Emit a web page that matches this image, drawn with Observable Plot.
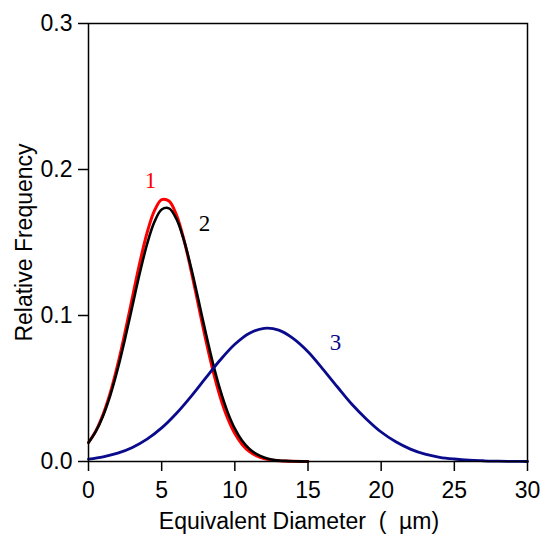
<!DOCTYPE html>
<html>
<head>
<meta charset="utf-8">
<script src="https://cdn.jsdelivr.net/npm/d3@7"></script>
<script src="https://cdn.jsdelivr.net/npm/@observablehq/plot@0.6"></script>
<style>
  html, body { margin: 0; padding: 0; background: #fff; }
</style>
</head>
<body>
<div id="chart"></div>
<script>
// Curve 1 (red)
const x1 = [0,0.5,1,1.5,2,2.5,3,3.5,4,4.5,5,5.5,6,6.5,7,7.5,8,8.5,9,9.5,10,10.5,11,11.5,12,12.5,13,14,15];
const y1 = [0.0130,0.0210,0.0324,0.0475,0.0665,0.0886,0.1124,0.1359,0.1565,0.1716,0.1793,0.1784,0.1691,0.1527,0.1313,0.1076,0.0839,0.0624,0.0442,0.0298,0.0191,0.0117,0.0068,0.0038,0.0020,0.0010,0.0005,0.0001,0];
// Curve 2 (black)
const x2 = [0,0.5,1,1.5,2,2.5,3,3.5,4,4.5,5,5.5,6,6.5,7,7.5,8,8.5,9,9.5,10,10.5,11,11.5,12,12.5,13,13.5,14,15];
const y2 = [0.0129,0.0206,0.0314,0.0457,0.0635,0.0842,0.1066,0.1289,0.1488,0.1640,0.1726,0.1734,0.1663,0.1523,0.1332,0.1112,0.0886,0.0674,0.0490,0.0340,0.0225,0.0142,0.0086,0.0050,0.0027,0.0014,0.0007,0.0004,0.0002,0];
// Curve 3 (blue)
const x3 = [0,1,2,3,4,5,6,7,8,9,10,11,12,13,14,15,16,17,18,19,20,21,22,23,24,25,26,27,28,29,30];
const y3 = [0.0016,0.0032,0.0057,0.0096,0.0153,0.0230,0.0329,0.0445,0.0571,0.0695,0.0803,0.0879,0.0912,0.0900,0.0842,0.0752,0.0635,0.0512,0.0392,0.0290,0.0202,0.0135,0.0085,0.0050,0.0029,0.0017,0.0009,0.0005,0.0002,0.0001,0];

const seriesNames = ["1","2","3"];
const seriesColors = ["#ff0000","#000000","#0a0a8c"];
const labelX = [4.24, 7.93, 16.88];
const labelY = [0.1925, 0.163, 0.0815];

const xTicks = [0,5,10,15,20,25,30];
const yTicks = [0,0.1,0.2,0.3];
const xTitle = "Equivalent Diameter\u00a0\u00a0(\u00a0\u00a0\u00b5m)";
const yTitle = "Relative Frequency";

const toRows = (xs, ys, s) => xs.map((x, i) => ({x, y: ys[i], s}));
const rows1 = toRows(x1, y1, "1");
const rows2 = toRows(x2, y2, "2");
const rows3 = toRows(x3, y3, "3");
const labels = seriesNames.map((s, i) => ({x: labelX[i], y: labelY[i], s}));

const sans = "Liberation Sans, Arial, sans-serif";
const serif = "Liberation Serif, Times New Roman, serif";

const chart = Plot.plot({
  width: 550,
  height: 542,
  marginLeft: 88,
  marginRight: 23,
  marginTop: 23,
  marginBottom: 81,
  style: {fontFamily: sans, fontSize: "23px", background: "#fff", color: "#000"},
  x: {domain: [0, 30]},
  y: {domain: [0, 0.3]},
  color: {domain: seriesNames, range: seriesColors},
  marks: [
    Plot.line(rows1, {x: "x", y: "y", stroke: seriesColors[0], strokeWidth: 3, curve: "catmull-rom"}),
    Plot.line(rows2, {x: "x", y: "y", stroke: seriesColors[1], strokeWidth: 2.6, curve: "catmull-rom"}),
    Plot.line(rows3, {x: "x", y: "y", stroke: seriesColors[2], strokeWidth: 2.8, curve: "catmull-rom"}),
    Plot.frame({stroke: "#000", strokeWidth: 1.5}),
    Plot.axisX({ticks: xTicks, tickSize: 10, tickPadding: 10, tickFormat: d3.format("d"), fontSize: 23, strokeWidth: 1.5, label: null}),
    Plot.axisY({ticks: yTicks, tickSize: 10, tickPadding: 6, tickFormat: d3.format(".1f"), fontSize: 23, strokeWidth: 1.5, label: null}),
    Plot.text(labels, {x: "x", y: "y", text: "s", fill: "s", fontFamily: serif, fontSize: 23, lineAnchor: "middle", textAnchor: "middle"}),
    Plot.text([xTitle], {frameAnchor: "bottom", text: d => d, dy: 67, dx: -9, lineAnchor: "bottom", fontSize: 23, fill: "#000"}),
    Plot.text([yTitle], {frameAnchor: "left", text: d => d, dx: -64, rotate: -90, lineAnchor: "middle", textAnchor: "middle", fontSize: 23, fill: "#000"})
  ]
});
document.getElementById("chart").appendChild(chart);
</script>
</body>
</html>
